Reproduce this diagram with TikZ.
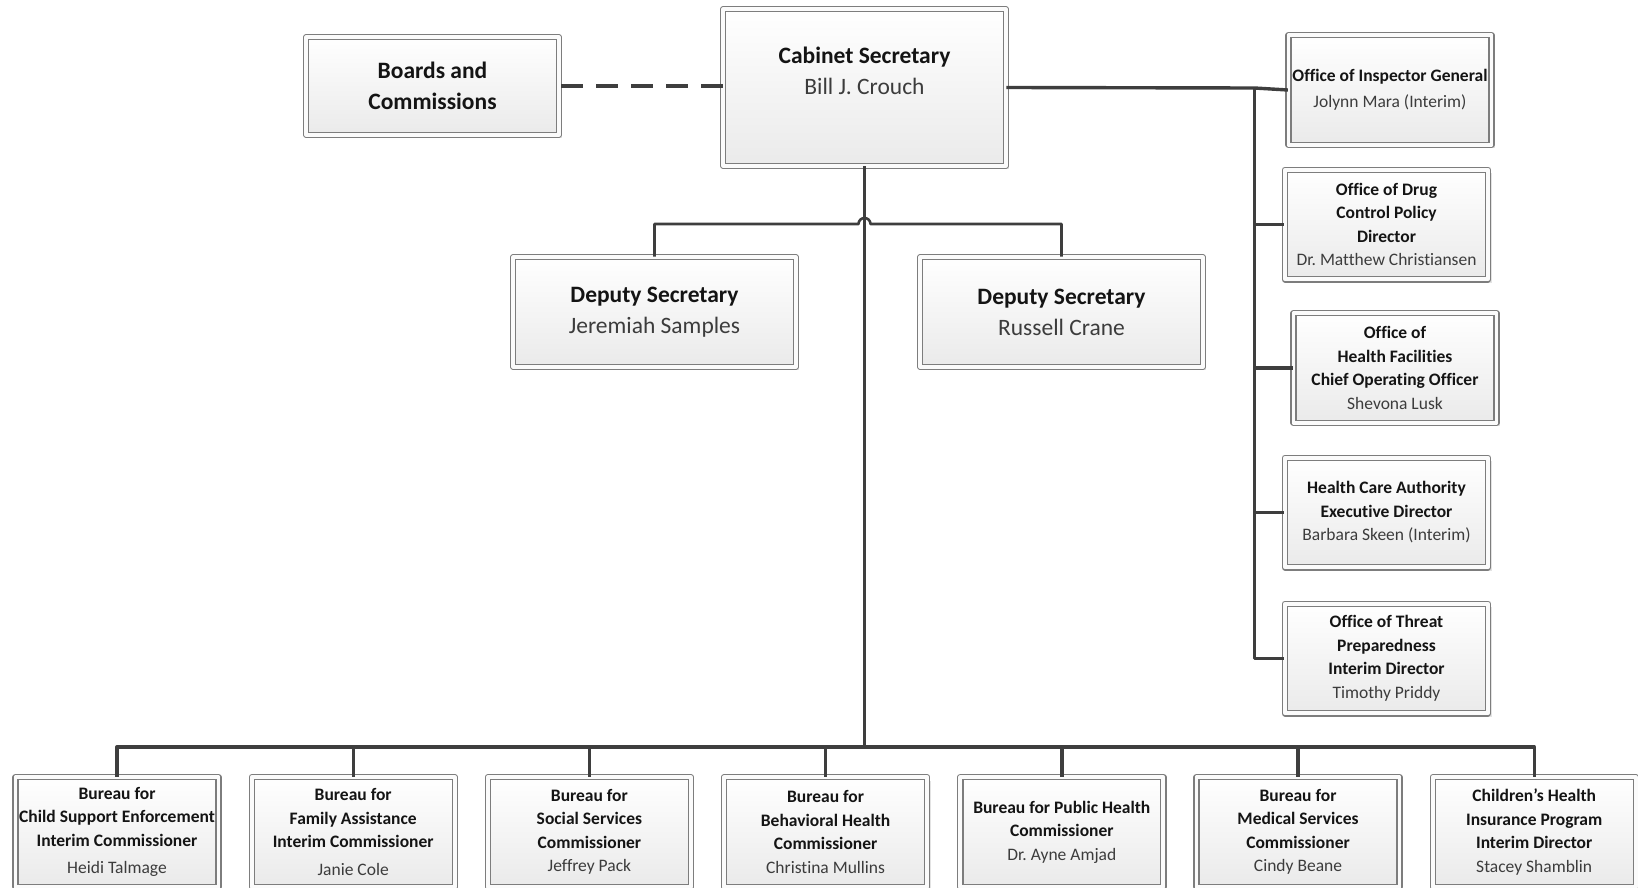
\documentclass[tikz,border=0pt]{standalone}
\usepackage{fontspec}
\setmainfont[Ligatures={NoCommon,NoContextual}]{Carlito}
\usetikzlibrary{shadows}
\definecolor{boxline}{RGB}{125,125,125}
\definecolor{boxfill}{RGB}{234,234,234}
\definecolor{wire}{RGB}{62,62,62}
\definecolor{namegray}{RGB}{60,60,60}
\newcommand{\who}[1]{{\mdseries\color{namegray}#1}}
\begin{document}
\begin{tikzpicture}[x=1pt, y=-1pt, line join=round,
  orgbox/.style={draw=boxline, line width=1.3pt, double=white!97!gray, double distance=3.8pt,
    top color=white, bottom color=boxfill, align=center, inner sep=1pt, text=black!92,
    drop shadow={shadow xshift=3.5pt, shadow yshift=-3.5pt, opacity=0.22}},
  bigbox/.style={orgbox, font=\fontsize{23.5}{31}\selectfont\bfseries, minimum width=282.6pt, minimum height=109.6pt},
  smallbox/.style={orgbox, font=\fontsize{17.5}{23.5}\selectfont\bfseries, minimum width=203pt, minimum height=109.6pt},
  link/.style={draw=wire, line width=2.2pt},
  bus/.style={draw=wire, line width=3.4pt}]
\useasboundingbox (0,0) rectangle (1638,888);
\clip (0,0) rectangle (1638,888);
% top level
\node[bigbox, minimum height=156.6pt] (cab) at (864.5,87.5) {Cabinet Secretary\\ \who{Bill J. Crouch}\\[3pt]\mbox{}};
\node[bigbox, minimum width=252.6pt, minimum height=97.6pt] (brd) at (432.5,86) {Boards and\\ Commissions};
\node[bigbox] (dsj) at (654.5,312) {Deputy Secretary\\ \who{Jeremiah Samples}};
\node[bigbox] (dsr) at (1061.5,312) {Deputy Secretary\\ \who{Russell Crane}};
% offices on the right
\node[smallbox] (ig) at (1390,90) {Office of Inspector General\\[3pt] \who{Jolynn Mara (Interim)}};
\node[smallbox] (drug) at (1386.5,224.5) {Office of Drug\\ Control Policy\\ Director\\ \who{Dr.\ Matthew Christiansen}};
\node[smallbox] (hfac) at (1395,368) {Office of\\ Health Facilities\\ Chief Operating Officer\\ \who{Shevona Lusk}};
\node[smallbox] (hca) at (1386.5,512.5) {Health Care Authority\\ Executive Director\\ \who{Barbara Skeen (Interim)}};
\node[smallbox] (thr) at (1386.5,658.5) {Office of Threat\\ Preparedness\\ Interim Director\\ \who{Timothy Priddy}};
% bureaus
\foreach \t [count=\i from 0] in {
  {Bureau for\\ Child Support Enforcement\\ Interim Commissioner\\[4pt] \who{Heidi Talmage}},
  {Bureau for\\ Family Assistance\\ Interim Commissioner\\[4pt] \who{Janie Cole}},
  {Bureau for\\ Social Services\\ Commissioner\\ \who{Jeffrey Pack}},
  {Bureau for\\ Behavioral Health\\ Commissioner\\ \who{Christina Mullins}},
  {Bureau for Public Health\\ Commissioner\\ \who{Dr.\ Ayne Amjad}},
  {Bureau for\\ Medical Services\\ Commissioner\\ \who{Cindy Beane}},
  {Children’s Health\\ Insurance Program\\ Interim Director\\ \who{Stacey Shamblin}}}
  \node[smallbox] (b\i) at (117+236.2*\i,832) {\t};
% connectors
\coordinate (trunk) at (1254.5,88);
\coordinate (deps) at (0,224);
\coordinate (busy) at (0,747);
\coordinate (hop) at (cab.south |- deps);
\draw[link, line width=3.4pt, dash pattern=on 22pt off 13pt] (cab.west |- brd.east) -- (brd.east);
\draw[bus] (cab.east) -- (trunk) -- (ig.west);
\draw[bus] (trunk) -- (trunk |- thr.west) -- (thr.west);
\foreach \b in {drug,hfac,hca} \draw[bus] (trunk |- \b.west) -- (\b.west);
\draw[link] (cab.south) -- (cab.south |- busy);
\draw[link, line width=2.6pt] (dsj.north) |- ([xshift=-6pt]hop) arc[start angle=180, end angle=0, radius=6pt] -| (dsr.north);
\draw[bus] (b0.north) -- (b0.north |- busy) -- (b6.north |- busy) -- (b6.north);
\foreach \i in {1,...,5} \draw[bus] (b\i.north) -- (b\i.north |- busy);
\end{tikzpicture}
\end{document}
